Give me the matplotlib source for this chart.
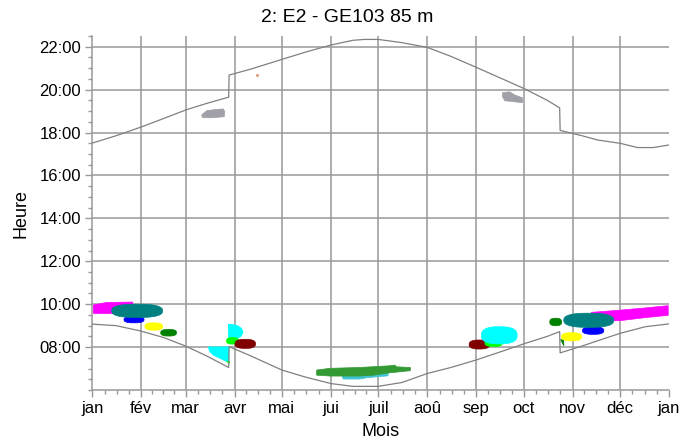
import numpy as np
import matplotlib
matplotlib.use("Agg")
import matplotlib.pyplot as plt
from matplotlib.patches import Polygon
from matplotlib.ticker import FixedLocator, MultipleLocator, FuncFormatter

plt.rcParams['font.family'] = ['Liberation Sans', 'DejaVu Sans']

# ---------------- data ----------------
title = "2: E2 - GE103 85 m"
month_labels = ['jan', 'fév', 'mar', 'avr', 'mai', 'jui', 'juil', 'aoû', 'sep', 'oct', 'nov', 'déc', 'jan']
month_start_days = [0, 31, 59, 90, 120, 151, 181, 212, 243, 273, 304, 334, 365]
hour_ticks = [8, 10, 12, 14, 16, 18, 20, 22]

# sunrise / sunset (decimal hours)
sunrise_days = [0, 15, 30, 45, 59, 72, 86.3, 86.6, 100, 120, 135, 151, 165, 181, 196, 212, 227, 243, 258, 273, 288, 295.8, 296.1, 310, 320, 334, 350, 365]
sunrise_hours = [9.07, 9.00, 8.76, 8.45, 8.05, 7.60, 7.05, 8.02, 7.60, 6.93, 6.60, 6.30, 6.17, 6.17, 6.35, 6.77, 7.05, 7.40, 7.77, 8.15, 8.50, 8.72, 7.73, 8.05, 8.30, 8.64, 8.95, 9.08]
sunset_days = [0, 15, 31, 45, 59, 72, 86.3, 86.6, 100, 120, 135, 151, 165, 172, 181, 196, 212, 227, 243, 258, 273, 288, 295.8, 296.1, 310, 320, 334, 345, 355, 365]
sunset_hours = [17.51, 17.85, 18.26, 18.65, 19.05, 19.35, 19.65, 20.68, 20.95, 21.41, 21.75, 22.08, 22.30, 22.34, 22.34, 22.19, 21.97, 21.55, 21.04, 20.55, 20.06, 19.50, 19.15, 18.10, 17.85, 17.65, 17.50, 17.30, 17.30, 17.42]

# rounded shadow blobs: centre (day, hour) and full extent (days, hours)
blob_day = [26.4, 28.4, 38.9, 48.3, 88.8, 96.8, 245.0, 254.0, 257.6, 317.0, 314.2, 303.3, 293.3]
blob_hour = [9.28, 9.69, 8.96, 8.67, 8.29, 8.15, 8.12, 8.18, 8.55, 8.77, 9.25, 8.48, 9.17]
blob_span_days = [12.7, 32.2, 11.2, 10.0, 7.8, 13.0, 13.0, 11.0, 22.6, 13.5, 31.6, 12.6, 7.5]
blob_span_hours = [0.30, 0.62, 0.34, 0.31, 0.30, 0.42, 0.42, 0.30, 0.80, 0.35, 0.66, 0.38, 0.35]
blob_colors = ['#0000ff', '#008080', '#ffff00', '#008000', '#00ff00', '#800000',
               '#800000', '#00ff00', '#00ffff', '#0000ff', '#008080', '#ffff00', '#008000']

# irregular blobs (vertices in day, hour)
jan_magenta_days = [0.6, 9.1, 25.6, 25.6, 13.3, 0.6]
jan_magenta_hours = [9.96, 10.08, 10.10, 9.88, 9.57, 9.57]
mar_cyan_days = [73.5, 86.5, 86.5, 84.0, 76.5, 74.0]
mar_cyan_hours = [8.01, 8.01, 7.31, 7.36, 7.63, 7.83]
mar_lime_days = [84.8, 86.5, 86.5]
mar_lime_hours = [7.36, 7.36, 7.24]
avr_cyan_days = [86.1, 91.4, 94.5, 95.5, 93.9, 90.3, 86.1]
avr_cyan_hours = [9.07, 9.02, 8.87, 8.67, 8.48, 8.36, 8.17]
sum_cyan_days = [157.8, 173.6, 187.2, 187.2, 173.6, 169.3, 158.8]
sum_cyan_hours = [6.69, 6.73, 6.77, 6.66, 6.57, 6.51, 6.51]
sum_green_days = [142.0, 150.4, 169.3, 188.3, 191.5, 192.6, 201.3, 201.3, 188.3, 177.8, 169.3, 150.4, 142.0]
sum_green_hours = [6.93, 7.01, 7.05, 7.13, 7.16, 7.08, 7.05, 6.90, 6.80, 6.69, 6.65, 6.65, 6.69]
nov_magenta_days = [316.0, 333.8, 350.7, 364.5, 364.5, 350.7, 333.8, 316.0]
nov_magenta_hours = [9.62, 9.72, 9.83, 9.93, 9.48, 9.38, 9.23, 9.23]
oct_green_days = [296.3, 298.4, 298.4]
oct_green_hours = [8.36, 8.30, 8.06]
mar_grey_days = [69.2, 72.4, 78.7, 82.9, 83.9, 83.5, 76.5, 69.8]
mar_grey_hours = [18.82, 19.02, 19.08, 19.10, 18.97, 18.74, 18.69, 18.69]
sep_grey_days = [259.6, 264.2, 267.4, 272.3, 272.3, 266.3, 261.1, 259.6]
sep_grey_hours = [19.86, 19.90, 19.75, 19.62, 19.39, 19.44, 19.48, 19.67]
dot_day = [104.2]
dot_hour = [20.68]

# ---------------- figure ----------------
fig = plt.figure(figsize=(6.95, 4.43), dpi=100)
ax = fig.add_axes([92.3 / 695, 1 - 390 / 443, (669 - 92.3) / 695, (390 - 36) / 443])
GRID = '#999999'


def poly(days, hours, color):
    ax.add_patch(Polygon(np.column_stack([days, hours]), closed=True,
                         facecolor=color, edgecolor=color, lw=0.5, zorder=2))


def rounded(i, n=2.6, npts=120):
    t = np.linspace(0, 2 * np.pi, npts)
    c, s = np.cos(t), np.sin(t)
    x = blob_day[i] + blob_span_days[i] / 2 * np.sign(c) * np.abs(c) ** (2 / n)
    y = blob_hour[i] + blob_span_hours[i] / 2 * np.sign(s) * np.abs(s) ** (2 / n)
    poly(x, y, blob_colors[i])


# January cluster
poly(jan_magenta_days, jan_magenta_hours, '#ff00ff')
for i in [0, 1, 2, 3]:
    rounded(i)
# March/April
poly(mar_cyan_days, mar_cyan_hours, '#00ffff')
poly(mar_lime_days, mar_lime_hours, '#00ff00')
poly(avr_cyan_days, avr_cyan_hours, '#00ffff')
for i in [4, 5]:
    rounded(i)
# Summer
poly(sum_cyan_days, sum_cyan_hours, '#40c4d4')
poly(sum_green_days, sum_green_hours, '#339933')
# September
for i in [6, 7, 8]:
    rounded(i)
# Oct-Dec
poly(nov_magenta_days, nov_magenta_hours, '#ff00ff')
for i in [9, 10, 11, 12]:
    rounded(i)
poly(oct_green_days, oct_green_hours, '#008000')
# grey evening blobs
poly(mar_grey_days, mar_grey_hours, '#a0a0a8')
poly(sep_grey_days, sep_grey_hours, '#a0a0a8')
ax.scatter(dot_day, dot_hour, s=5, color='#e0a080', zorder=3, linewidths=0)

# sunrise / sunset
ax.plot(sunrise_days, sunrise_hours, color='#808080', lw=0.9, zorder=3)
ax.plot(sunset_days, sunset_hours, color='#808080', lw=0.9, zorder=3)

# axes
ax.set_xlim(0, 365)
ax.set_ylim(6.0, 22.5)
ax.xaxis.set_major_locator(FixedLocator(month_start_days))
ax.set_xticklabels(month_labels)
minor_x = []
for a, b in zip(month_start_days[:-1], month_start_days[1:]):
    minor_x += [a + k * (b - a) / 4 for k in (1, 2, 3)]
ax.xaxis.set_minor_locator(FixedLocator(minor_x))
ax.yaxis.set_major_locator(FixedLocator(hour_ticks))
ax.yaxis.set_minor_locator(MultipleLocator(0.5))
ax.yaxis.set_major_formatter(FuncFormatter(lambda v, p: f"{int(v):02d}:00"))

ax.grid(True, which='major', color=GRID, lw=1.1, zorder=0)
ax.set_axisbelow(True)
xg = ax.get_xgridlines()
xg[0].set_visible(False)
xg[-1].set_visible(False)

for side in ['top', 'right']:
    ax.spines[side].set_visible(False)
for side in ['left', 'bottom']:
    ax.spines[side].set_color(GRID)
    ax.spines[side].set_linewidth(1.1)

ax.tick_params(which='major', direction='out', length=5, width=1.0, color=GRID,
               labelsize=12, pad=3)
ax.tick_params(which='minor', direction='out', length=3, width=1.0, color=GRID)

ax.set_xlabel('Mois', fontsize=13, labelpad=5)
ax.set_ylabel('Heure', fontsize=13, labelpad=7)
fig.text(0.5, 1 - 18 / 443, title, ha='center', va='center', fontsize=14)

fig.savefig('out.png', dpi=100, facecolor='white')
